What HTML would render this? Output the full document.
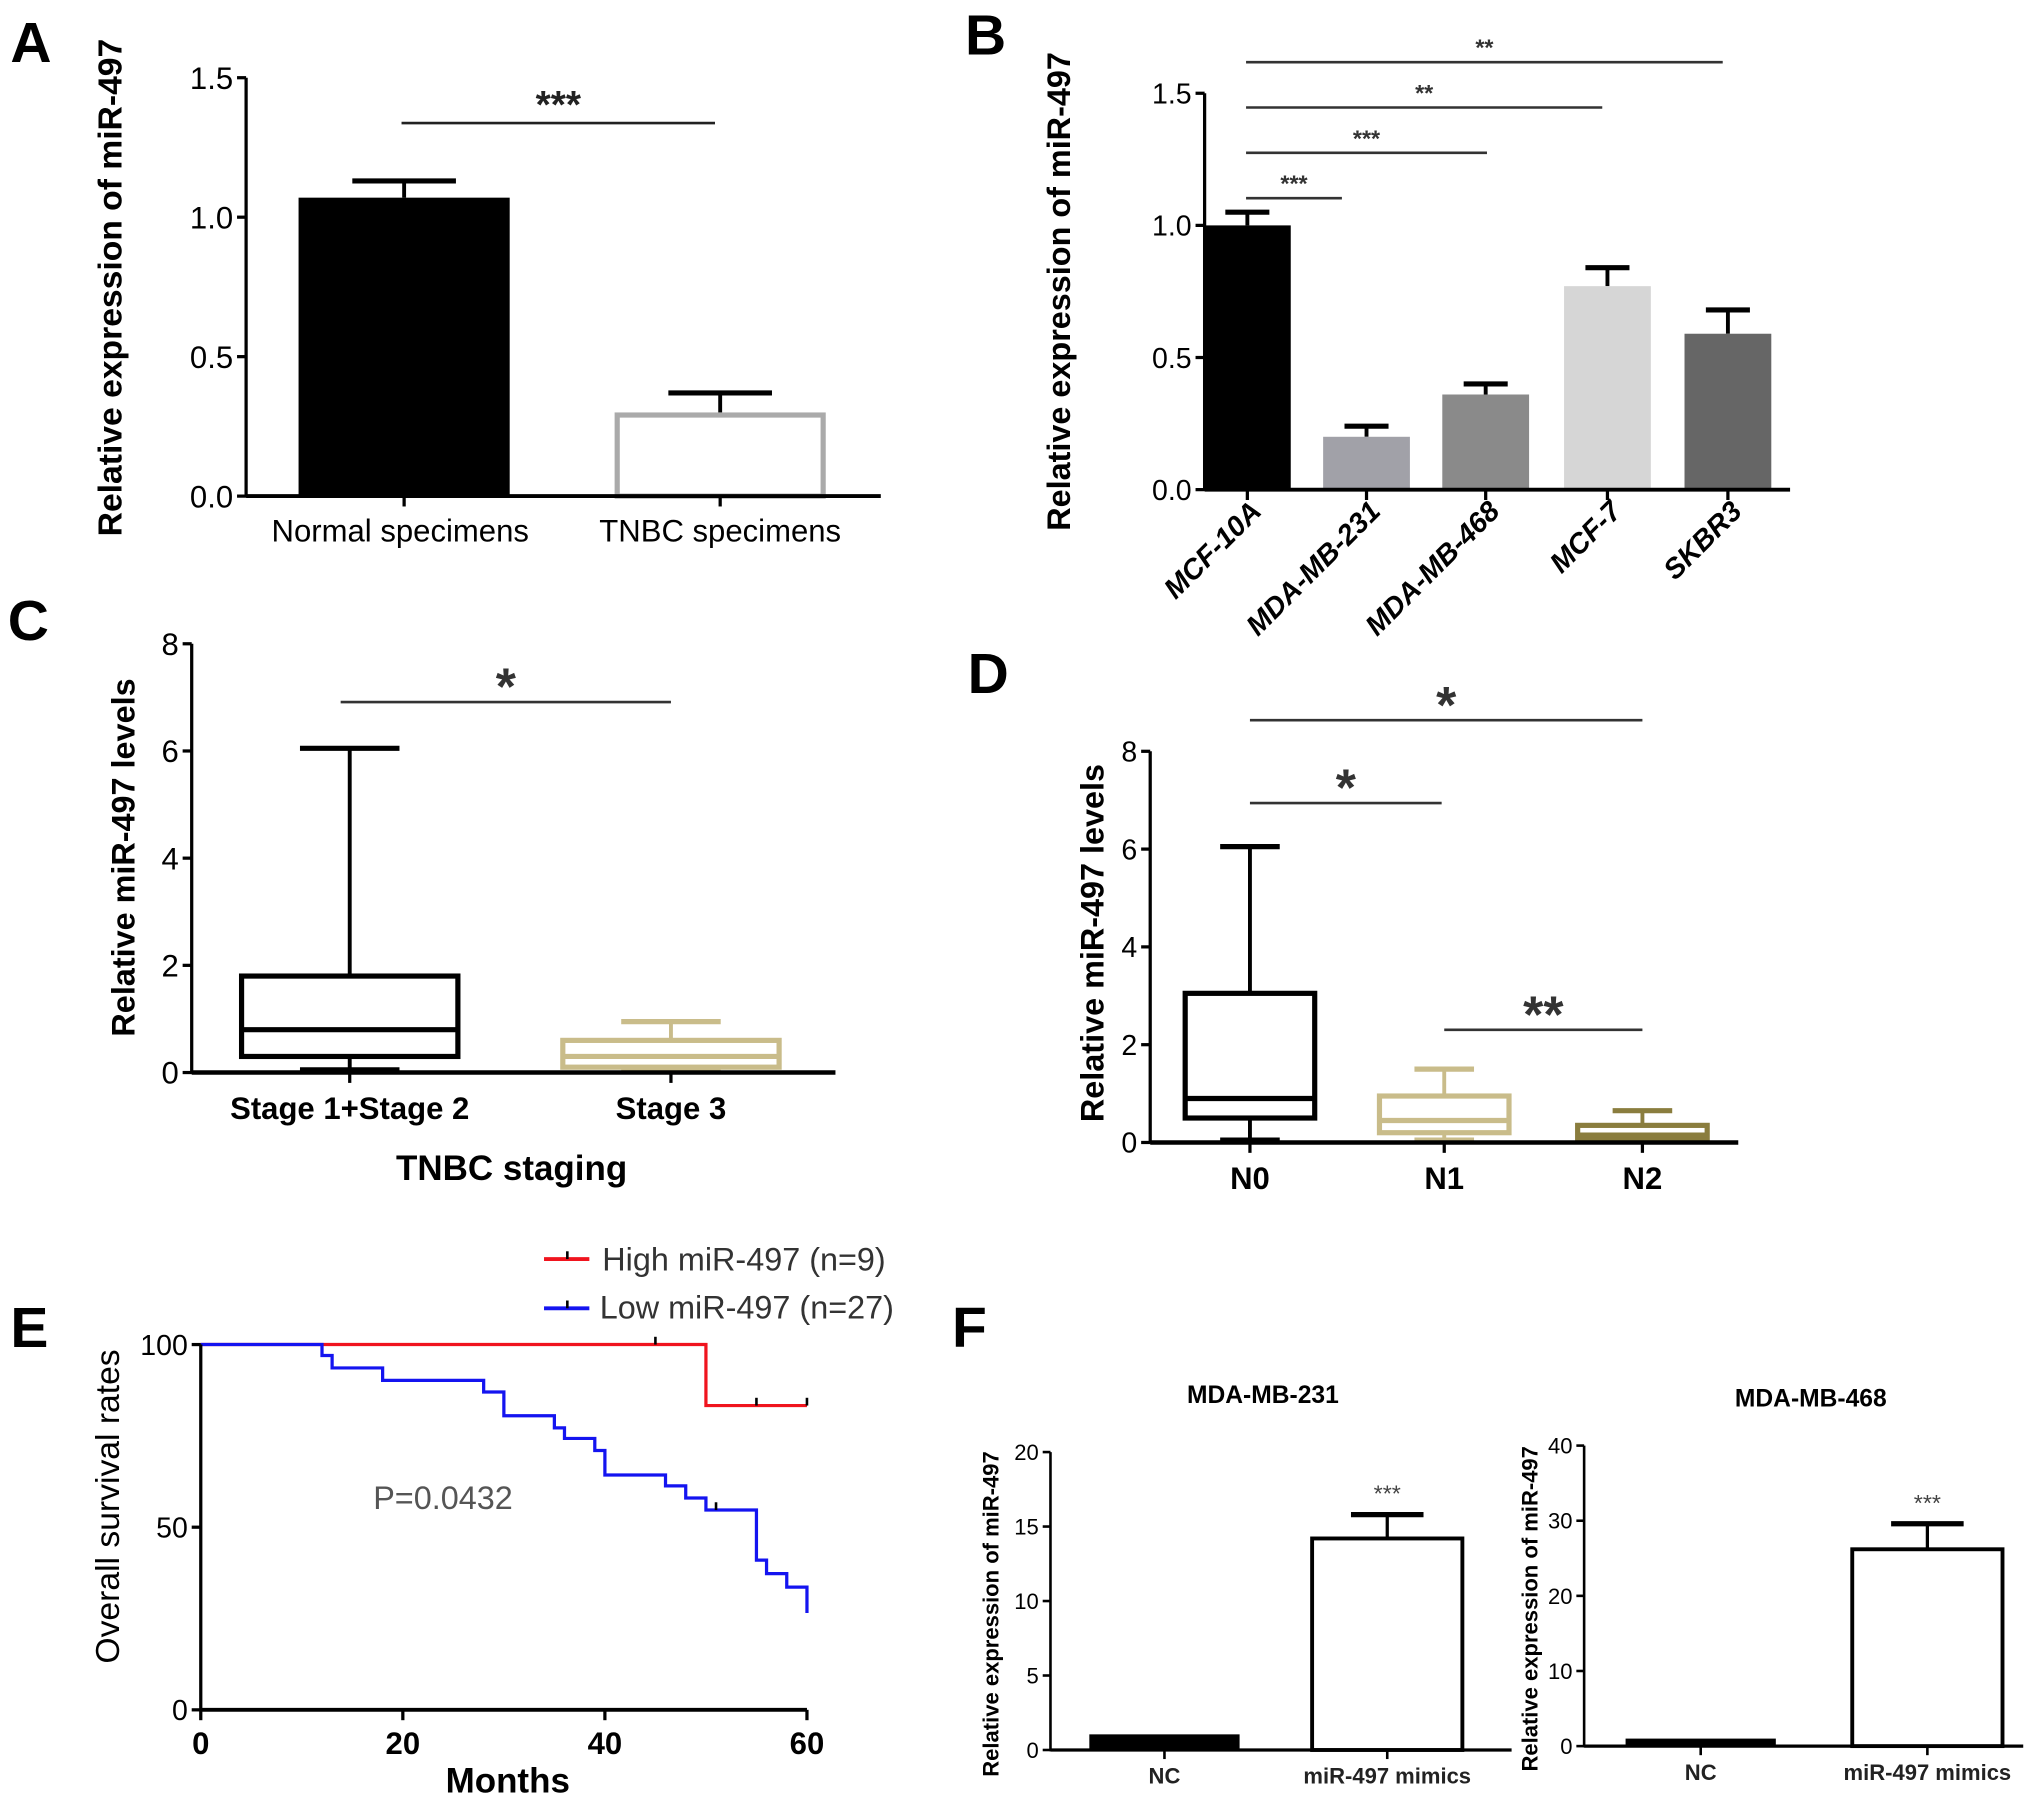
<!DOCTYPE html>
<html><head><meta charset="utf-8">
<style>
html,body{margin:0;padding:0;background:#fff;}
svg{display:block;}
text{font-family:"Liberation Sans",Arial,sans-serif;}
</style></head>
<body>
<svg id="fig" xmlns="http://www.w3.org/2000/svg" width="2031" height="1818" viewBox="0 0 1568 1403.5" preserveAspectRatio="none"></svg>
<script>
// ---------- Panel A data ----------
const aCats = ["Normal specimens","TNBC specimens"];
const aVals = [1.07, 0.30];
const aErrs = [0.06, 0.07];
const aTicks = ["0.0","0.5","1.0","1.5"];
// ---------- Panel B data ----------
const bCats = ["MCF-10A","MDA-MB-231","MDA-MB-468","MCF-7","SKBR3"];
const bVals = [1.0, 0.20, 0.36, 0.77, 0.59];
const bErrs = [0.05, 0.04, 0.04, 0.07, 0.09];
const bTicks = ["0.0","0.5","1.0","1.5"];
// ---------- Panel C data ----------
const cCats = ["Stage 1+Stage 2","Stage 3"];
const cMin = [0.05, 0.05];
const cQ1 = [0.3, 0.1];
const cMed = [0.8, 0.3];
const cQ3 = [1.8, 0.6];
const cMax = [6.05, 0.95];
const cTicks = ["0","2","4","6","8"];
// ---------- Panel D data ----------
const dCats = ["N0","N1","N2"];
const dMin = [0.05, 0.05, 0.02];
const dQ1 = [0.5, 0.2, 0.05];
const dMed = [0.9, 0.45, 0.15];
const dQ3 = [3.05, 0.95, 0.35];
const dMax = [6.05, 1.5, 0.65];
const dTicks = ["0","2","4","6","8"];
// ---------- Panel E data ----------
const eHighT = [0, 50, 60];
const eHighS = [100, 83.3, 83.3];
const eHighCens = [45, 55, 60];
const eLowT = [0, 12, 13, 18, 28, 30, 35, 36, 39, 40, 46, 48, 50, 55, 56, 58, 60];
const eLowS = [100, 97, 93.6, 90.2, 87, 80.5, 77.2, 74.3, 71, 64.3, 61.3, 58, 54.7, 41, 37.3, 33.6, 26.5];
const eLowCens = [51];
const eXTicks = ["0","20","40","60"];
const eYTicks = ["0","50","100"];
// ---------- Panel F data ----------
const fCats = ["NC","miR-497 mimics"];
const f1Vals = [1.05, 14.2];
const f1Errs = [0, 1.6];
const f1Ticks = ["0","5","10","15","20"];
const f2Vals = [1.0, 26.2];
const f2Errs = [0, 3.4];
const f2Ticks = ["0","10","20","30","40"];

const NS = "http://www.w3.org/2000/svg";
const svg = document.getElementById("fig");
function el(tag, attrs, parent, txt){
  const e = document.createElementNS(NS, tag);
  for (const k in attrs) e.setAttribute(k, attrs[k]);
  if (txt !== undefined) e.textContent = txt;
  (parent || svg).appendChild(e);
  return e;
}
function grp(name){
  const g = el("g", {});
  
  
  return g;
}
function lin(d0, d1, r0, r1){ return v => r0 + (v - d0) * (r1 - r0) / (d1 - d0); }
function line(g, x1, y1, x2, y2, sw, col, name){
  const l = el("line", {x1, y1, x2, y2, stroke: col || "#000", "stroke-width": sw || 2}, g);
  
  
  return l;
}
function text(g, x, y, s, size, opts, name){
  opts = opts || {};
  const t = el("text", Object.assign({x, y, "font-size": size, fill: opts.fill || "#000", "text-anchor": opts.anchor || "middle", "font-weight": opts.weight || "normal"}, opts.extra || {}), g, s);
  
  
  return t;
}
function yAxis(g, x, y0, y1, ticks, yScale, size, tickLen, sw){
  line(g, x, y0, x, y1, sw || 2.5, "#000", "y-axis-line");
  ticks.forEach(t => {
    const y = yScale(parseFloat(t));
    line(g, x - tickLen, y, x, y, sw || 2.5, "#000", "y-tick");
    text(g, x - tickLen - 3, y + size * 0.36, t, size, {anchor: "end"}, "y-tick-label");
  });
}
function panelLetter(x, y, s){
  text(svg, x, y, s, 44, {anchor: "start", weight: "bold"}, "panel-label-" + s.toLowerCase());
}
function sig(g, x1, x2, y, stars, size, col, dy){
  line(g, x1, y, x2, y, 2, col || "#333", "significance-bar");
  text(g, (x1 + x2) / 2, y - (dy || 8), stars, size, {weight: "bold", fill: col || "#333"}, "significance-stars");
}
function rotLabel(g, x, y, s, size, name, weight){
  return text(g, x, y, s, size, {weight: weight || "bold", extra: {transform: `rotate(-90 ${x} ${y})`}}, name || "y-axis-title");
}

// ================= Panel A =================
panelLetter(8, 48, "A");
(function(){
  const g = grp("panel-a-bar-chart");
  const ax = 190, y0 = 383, y1 = 60;
  const ys = lin(0, 1.5, y0, y1);
  const xs = [312, 556], bw = 163;
  aVals.forEach((v, i) => {
    const top = ys(v), et = ys(v + aErrs[i]);
    line(g, xs[i], top, xs[i], et, 3, "#000", "error-bar");
    line(g, xs[i] - 40, et, xs[i] + 40, et, 4, "#000", "error-cap");
    const r = el("rect", {x: xs[i] - bw/2 + (i?2:0), y: top + (i?2:0), width: bw - (i?4:0), height: y0 - top - (i?2:0), fill: i ? "#fff" : "#000", stroke: i ? "#aaa" : "#000", "stroke-width": i ? 4 : 0}, g);
    
    
    line(g, xs[i], y0, xs[i], y0 + 8, 2.5, "#000", "x-tick");
    text(g, xs[i] - (i ? 0 : 3), 418, aCats[i], 24, {}, "x-tick-label");
  });
  yAxis(g, ax, y0 + 1, y1, aTicks, ys, 24, 7);
  line(g, ax, y0, 680, y0, 3, "#000", "x-axis-line");
  sig(g, 310, 552, 95, "***", 30, "#222", 4);
  rotLabel(g, 94, 222, "Relative expression of miR-497", 26);
})();

// ================= Panel B =================
panelLetter(745, 42, "B");
(function(){
  const g = grp("panel-b-bar-chart");
  const ax = 930, y0 = 378, y1 = 72;
  const ys = lin(0, 1.5, y0, y1);
  const xs = [963, 1055, 1147, 1241, 1334], bw = 67;
  const cols = ["#000", "#a1a1a8", "#8a8a8a", "#d6d6d6", "#666"];
  bVals.forEach((v, i) => {
    const top = ys(v), et = ys(v + bErrs[i]);
    line(g, xs[i], top, xs[i], et, 3, "#000", "error-bar");
    line(g, xs[i] - 17, et, xs[i] + 17, et, 4, "#000", "error-cap");
    const r = el("rect", {x: xs[i] - bw/2, y: top, width: bw, height: y0 - top, fill: cols[i]}, g);
    
    
    line(g, xs[i], y0, xs[i], y0 + 8, 2.5, "#000", "x-tick");
    text(g, xs[i] + 12, 396, bCats[i], 22, {anchor: "end", weight: "bold", extra: {transform: `rotate(-45 ${xs[i]+12} 396)`, "font-style": "italic"}}, "x-tick-label");
  });
  yAxis(g, ax, y0 + 1, y1, bTicks, ys, 22, 7);
  line(g, ax, y0, 1382, y0, 3, "#000", "x-axis-line");
  sig(g, 962, 1036, 153, "***", 18, "#333", 5);
  sig(g, 962, 1148, 118, "***", 18, "#333", 5);
  sig(g, 962, 1237, 83, "**", 18, "#333", 5);
  sig(g, 962, 1330, 48, "**", 18, "#333", 5);
  rotLabel(g, 826, 225, "Relative expression of miR-497", 25);
})();

// ---------- box helper ----------
function boxes(g, xs, bw, ys, mn, q1, md, q3, mx, cols, cats){
  xs.forEach((x, i) => {
    const c = cols[i];
    const b = grp("box-" + cats[i].toLowerCase().replace(/[^a-z0-9]+/g, "-"));
    g.appendChild(b);
    line(b, x, ys(mx[i]), x, ys(q3[i]), 3, c, "whisker-upper");
    line(b, x, ys(q1[i]), x, ys(mn[i]), 3, c, "whisker-lower");
    line(b, x - bw*0.23, ys(mx[i]), x + bw*0.23, ys(mx[i]), 4, c, "whisker-cap");
    line(b, x - bw*0.23, ys(mn[i]), x + bw*0.23, ys(mn[i]), 4, c, "whisker-cap");
    const r = el("rect", {x: x - bw/2, y: ys(q3[i]), width: bw, height: ys(q1[i]) - ys(q3[i]), fill: "#fff", stroke: c, "stroke-width": 4}, b);
    
    
    line(b, x - bw/2, ys(md[i]), x + bw/2, ys(md[i]), 4, c, "median-line");
  });
}

// ================= Panel C =================
panelLetter(6, 494, "C");
(function(){
  const g = grp("panel-c-box-plot");
  const ax = 148, y0 = 828, y1 = 497;
  const ys = lin(0, 8, y0, y1);
  const xs = [270, 518];
  boxes(g, xs, 167, ys, cMin, cQ1, cMed, cQ3, cMax, ["#000", "#c9bc8a"], cCats);
  yAxis(g, ax, y0 + 1, y1, cTicks, ys, 24, 7);
  line(g, ax, y0, 645, y0, 3.5, "#000", "x-axis-line");
  xs.forEach((x, i) => {
    line(g, x, y0, x, y0 + 8, 2.5, "#000", "x-tick");
    text(g, x, 864, cCats[i], 24, {weight: "bold"}, "x-tick-label");
  });
  text(g, 395, 911, "TNBC staging", 27, {weight: "bold"}, "x-axis-title");
  sig(g, 263, 518, 542, "*", 40, "#333", -2);
  rotLabel(g, 104, 662, "Relative miR-497  levels", 25);
})();

// ================= Panel D =================
panelLetter(747, 535, "D");
(function(){
  const g = grp("panel-d-box-plot");
  const ax = 888, y0 = 882, y1 = 580;
  const ys = lin(0, 8, y0, y1);
  const xs = [965, 1115, 1268];
  boxes(g, xs, 100, ys, dMin, dQ1, dMed, dQ3, dMax, ["#000", "#c9bc8a", "#8a7d3e"], dCats);
  yAxis(g, ax, y0 + 1, y1, dTicks, ys, 22, 7);
  line(g, ax, y0, 1342, y0, 3.5, "#000", "x-axis-line");
  xs.forEach((x, i) => {
    line(g, x, y0, x, y0 + 8, 2.5, "#000", "x-tick");
    text(g, x, 918, dCats[i], 24, {weight: "bold"}, "x-tick-label");
  });
  sig(g, 965, 1268, 556, "*", 40, "#333", -2);
  sig(g, 965, 1113, 620, "*", 40, "#333", -2);
  sig(g, 1115, 1268, 795, "**", 40, "#333", -2);
  rotLabel(g, 852, 728, "Relative miR-497  levels", 25);
})();

// ================= Panel E =================
panelLetter(8, 1040, "E");
(function(){
  const g = grp("panel-e-survival-curve");
  const xs = lin(0, 60, 155, 623), ys = lin(0, 100, 1320, 1038);
  function stepPath(T, S){
    let d = `M${xs(T[0])},${ys(S[0])}`;
    for (let i = 1; i < T.length; i++){
      d += ` H${xs(T[i])} V${ys(S[i])}`;
    }
    return d;
  }
  function survAt(T, S, t){ let s = S[0]; for (let i = 0; i < T.length; i++) if (T[i] <= t) s = S[i]; return s; }
  const hp = el("path", {d: stepPath(eHighT, eHighS), fill: "none", stroke: "#f0141e", "stroke-width": 2.5}, g);
  
  
  const lp = el("path", {d: stepPath(eLowT, eLowS), fill: "none", stroke: "#1414f0", "stroke-width": 2.5}, g);
  
  
  eHighCens.forEach(t => { const y = ys(survAt(eHighT, eHighS, t)); line(g, xs(t), y - 6, xs(t), y, 2, "#000", "censor-mark"); });
  eLowCens.forEach(t => { const y = ys(survAt(eLowT, eLowS, t)); line(g, xs(t), y - 6, xs(t), y, 2, "#000", "censor-mark"); });
  yAxis(g, 155, 1321, 1038, eYTicks, ys, 22, 7);
  line(g, 155, 1320, 623, 1320, 3, "#000", "x-axis-line");
  eXTicks.forEach(t => {
    const x = xs(parseFloat(t));
    line(g, x, 1320, x, 1328, 2.5, "#000", "x-tick");
    text(g, x, 1354, t, 24, {weight: "bold"}, "x-tick-label");
  });
  text(g, 392, 1384, "Months", 27, {weight: "bold"}, "x-axis-title");
  rotLabel(g, 92, 1163, "Overall survival rates", 26, "y-axis-title", "normal");
  text(g, 342, 1165, "P=0.0432", 25, {fill: "#555"}, "p-value");
  const lg = grp("legend");
  g.appendChild(lg);
  line(lg, 420, 972, 455, 972, 3, "#f0141e", "legend-swatch-high");
  line(lg, 438, 966, 438, 972, 2, "#000", "legend-censor");
  text(lg, 465, 981, "High miR-497 (n=9)", 25, {anchor: "start", fill: "#333"}, "legend-entry-high");
  line(lg, 420, 1010, 455, 1010, 3, "#1414f0", "legend-swatch-low");
  line(lg, 438, 1004, 438, 1010, 2, "#000", "legend-censor");
  text(lg, 463, 1018, "Low miR-497 (n=27)", 25, {anchor: "start", fill: "#333"}, "legend-entry-low");
})();

// ================= Panel F =================
panelLetter(735, 1040, "F");
function fChart(name, ax, axEnd, y0, y1, ticks, vals, errs, xs, title, titleX, titleY, ylabX){
  const g = grp(name);
  const ys = lin(0, parseFloat(ticks[ticks.length - 1]), y0, y1);
  const bw = 116;
  vals.forEach((v, i) => {
    const top = ys(v);
    if (errs[i] > 0){
      const et = ys(v + errs[i]);
      line(g, xs[i], top, xs[i], et, 2.5, "#000", "error-bar");
      line(g, xs[i] - 28, et, xs[i] + 28, et, 4, "#000", "error-cap");
    }
    const r = el("rect", {x: xs[i] - bw/2, y: top, width: bw, height: y0 - top, fill: i ? "#fff" : "#000", stroke: "#000", "stroke-width": i ? 3 : 0}, g);
    
    
    line(g, xs[i], y0, xs[i], y0 + 7, 2, "#000", "x-tick");
    text(g, xs[i], y0 + 26, fCats[i], 17, {weight: "bold", fill: "#222"}, "x-tick-label");
    if (i) text(g, xs[i], ys(v + errs[i]) - 10, "***", 18, {fill: "#444"}, "significance-stars");
  });
  yAxis(g, ax, y0 + 1, y1, ticks, ys, 17, 6, 2);
  line(g, ax, y0, axEnd, y0, 2.5, "#000", "x-axis-line");
  text(g, titleX, titleY, title, 19, {weight: "bold"}, "chart-title");
  rotLabel(g, ylabX, (y0 + y1) / 2 + 10, "Relative expression of miR-497", 17);
}
fChart("panel-f-mda-mb-231-chart", 811, 1167, 1351, 1121, f1Ticks, f1Vals, f1Errs, [899, 1071], "MDA-MB-231", 975, 1083, 771);
fChart("panel-f-mda-mb-468-chart", 1223, 1562, 1348, 1116, f2Ticks, f2Vals, f2Errs, [1313, 1488], "MDA-MB-468", 1398, 1086, 1187);
</script>
</body></html>
